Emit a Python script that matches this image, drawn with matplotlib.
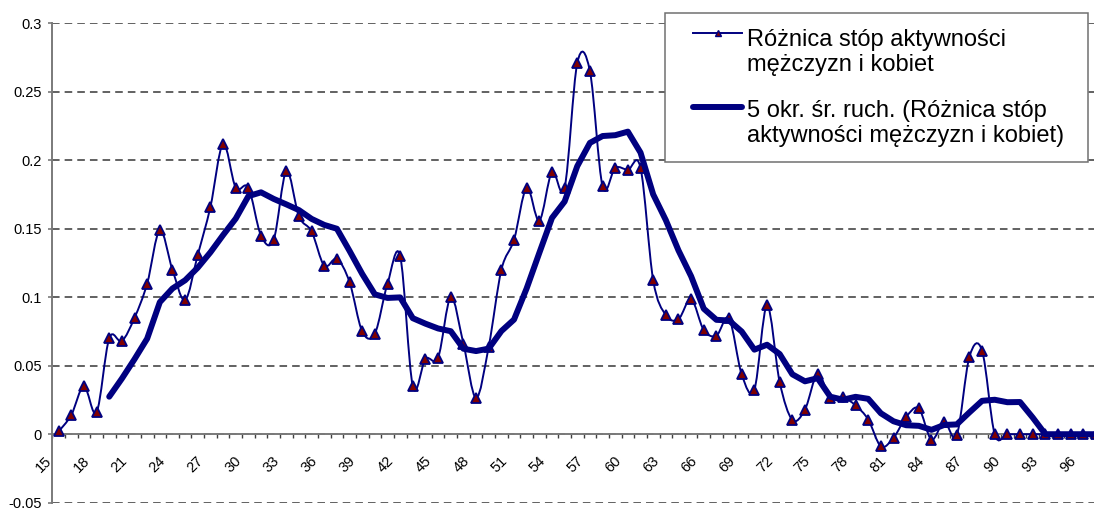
import numpy as np
import pandas as pd
import matplotlib
matplotlib.use("Agg")
import matplotlib.pyplot as plt
from matplotlib.path import Path
from matplotlib.patches import PathPatch, Rectangle
from matplotlib.lines import Line2D
import matplotlib.transforms as mtransforms

plt.rcParams['font.family'] = ['Liberation Sans', 'DejaVu Sans']

# ---------------- data ----------------
ages = list(range(15, 98))
diff = [0.002, 0.014, 0.035, 0.016, 0.070, 0.068, 0.085, 0.110, 0.149, 0.120,
        0.098, 0.131, 0.166, 0.212, 0.180, 0.180, 0.145, 0.142, 0.192, 0.159,
        0.148, 0.123, 0.128, 0.111, 0.075, 0.0735, 0.110, 0.130, 0.035, 0.055,
        0.056, 0.100, 0.066, 0.0265, 0.064, 0.120, 0.142, 0.180, 0.156, 0.1915,
        0.180, 0.271, 0.265, 0.181, 0.1945, 0.193, 0.1945, 0.1125, 0.087, 0.084,
        0.0986, 0.076, 0.072, 0.0845, 0.0436, 0.0326, 0.094, 0.038, 0.0105, 0.018,
        0.044, 0.0265, 0.027, 0.021, 0.0107, -0.0088, -0.0027, 0.0126, 0.0188, -0.0039,
        0.009, -0.0007, 0.0565, 0.061, 0.0, 0.0, 0.0, 0.0, 0.0, 0.0,
        0.0, 0.0, 0.0]
ma_period = 5
xtick_labels = list(range(15, 97, 3))
yticks = [-0.05, 0.0, 0.05, 0.1, 0.15, 0.2, 0.25, 0.3]
ytick_labels = ['-0.05', '0', '0.05', '0.1', '0.15', '0.2', '0.25', '0.3']
series_label = "Różnica stóp aktywności\nmężczyzn i kobiet"
trend_label = "5 okr. śr. ruch. (Różnica stóp\naktywności mężczyzn i kobiet)"

moving_avg = pd.Series(diff).rolling(ma_period).mean().to_numpy()

# ---------------- figure ----------------
W, H = 1094, 511
fig = plt.figure(figsize=(W / 100, H / 100), dpi=100)
ax_left, ax_right = 52.3, 1094.0
ax_top, ax_bot = 23.3, 502.7
ax = fig.add_axes([ax_left / W, 1 - ax_bot / H, (ax_right - ax_left) / W, (ax_bot - ax_top) / H])

cat_px = 12.65
ax.set_xlim(14.5, 14.5 + (ax_right - ax_left) / cat_px)
ax.set_ylim(-0.05, 0.3)

navy = '#000080'
grid_col = '#555555'
axis_col = '#7a7a7a'
tick_fs = 10.5

# gridlines
ax.set_yticks(yticks)
ax.set_yticklabels(ytick_labels, fontsize=tick_fs)
ax.yaxis.grid(True, color=grid_col, linewidth=1.3, linestyle=(0, (4.2, 2.8)))
ax.set_axisbelow(True)
ax.tick_params(axis='y', direction='out', length=3, width=1.2, color=axis_col, pad=4.5)

# spines
for s in ['top', 'right']:
    ax.spines[s].set_visible(False)
ax.spines['left'].set_color(axis_col)
ax.spines['left'].set_linewidth(1.4)
ax.spines['bottom'].set_position(('data', 0))
ax.spines['bottom'].set_color(axis_col)
ax.spines['bottom'].set_linewidth(1.4)
ax.spines['bottom'].set_zorder(1.5)

# x ticks between categories
ax.set_xticks(np.arange(14.5, 97.5, 1.0))
ax.set_xticklabels([])
ax.tick_params(axis='x', direction='out', length=3, width=1, color='#404040')

# x labels (rotated)
off = mtransforms.ScaledTranslation(-15 / 100, -30 / 100, fig.dpi_scale_trans)
for a in xtick_labels:
    ax.text(a, 0, str(a), rotation=45, rotation_mode='anchor', ha='center', va='center',
            fontsize=tick_fs, transform=ax.transData + off, clip_on=False)

# smoothed thin line (Bezier through points)
pts = np.column_stack([ages, diff]).astype(float)
n = len(pts)
verts = [tuple(pts[0])]
codes = [Path.MOVETO]
for i in range(n - 1):
    p0 = pts[max(i - 1, 0)]
    p1 = pts[i]
    p2 = pts[i + 1]
    p3 = pts[min(i + 2, n - 1)]
    c1 = p1 + (p2 - p0) / 6.0
    c2 = p2 - (p3 - p1) / 6.0
    verts += [tuple(c1), tuple(c2), tuple(p2)]
    codes += [Path.CURVE4] * 3
patch = PathPatch(Path(verts, codes), facecolor='none', edgecolor=navy, linewidth=1.4, zorder=3)
ax.add_patch(patch)
ax.plot(ages, diff, linestyle='none', marker='^', markersize=6.5, markerfacecolor='#800000',
        markeredgecolor=navy, markeredgewidth=1.3, zorder=4)

# moving average trendline
ax.plot(ages, moving_avg, color=navy, linewidth=4.3, solid_capstyle='round',
        solid_joinstyle='round', zorder=5)

# ---------------- legend (manual) ----------------
def fx(px):
    return px / W

def fy(py):
    return 1 - py / H

fig.add_artist(Rectangle((fx(665), fy(162.3)), fx(1088) - fx(665), fy(12.7) - fy(162.3),
                         transform=fig.transFigure, facecolor='white', edgecolor='#707070',
                         linewidth=1.1, zorder=10))
fig.add_artist(Line2D([fx(693), fx(742)], [fy(33.3), fy(33.3)], transform=fig.transFigure,
                      color=navy, linewidth=1.4, zorder=11))
fig.add_artist(Line2D([fx(717.5)], [fy(33.3)], transform=fig.transFigure, linestyle='none',
                      marker='^', markersize=5, markerfacecolor='#800000', markeredgecolor=navy,
                      markeredgewidth=1.0, zorder=12))
# va='baseline' on multiline text aligns the last line's baseline
fig.text(fx(747), fy(70.7), series_label, fontsize=17, va='baseline', ha='left',
         linespacing=1.17, zorder=12)
fig.add_artist(Line2D([fx(693), fx(742)], [fy(106.7), fy(106.7)], transform=fig.transFigure,
                      color=navy, linewidth=4.3, solid_capstyle='round', zorder=11))
fig.text(fx(747), fy(142.0), trend_label, fontsize=17, va='baseline', ha='left',
         linespacing=1.17, zorder=12)

fig.savefig('out.png', dpi=100)
